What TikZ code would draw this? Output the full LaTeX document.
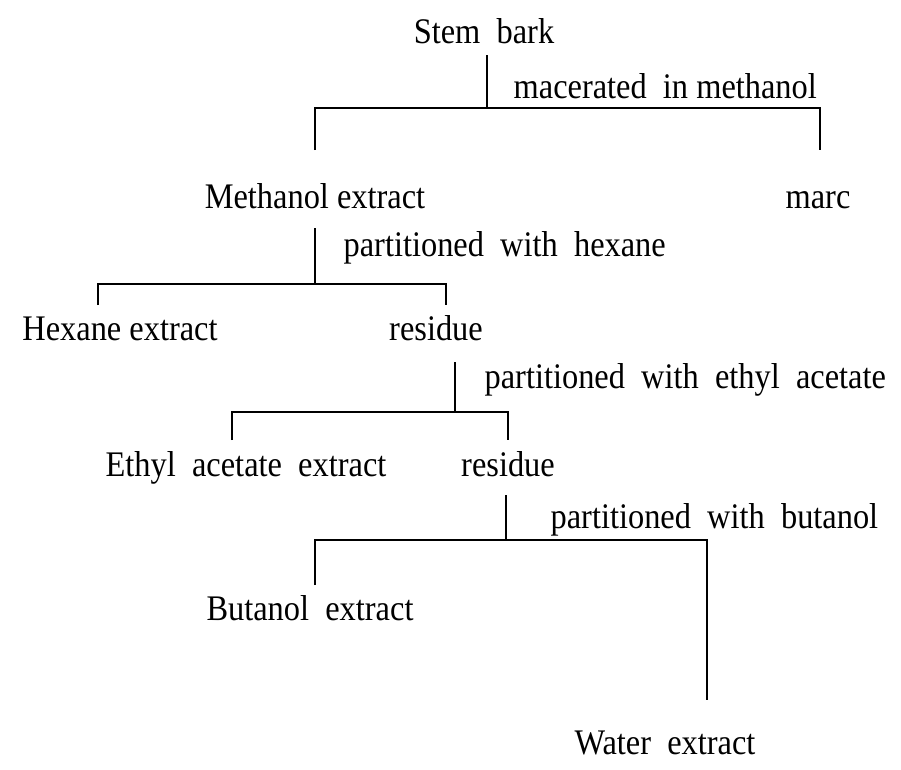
\documentclass[tikz,border=0pt]{standalone}
\usepackage{fontspec}
\setmainfont{Liberation Serif}[FakeStretch=0.9]
\usepackage{tikz}

\begin{document}
\begin{tikzpicture}[x=1pt, y=-1pt, font=\fontsize{36}{42}\selectfont, line width=1.3pt]
    \tikzset{
        txt/.style={inner sep=0pt, anchor=base},
        note/.style={inner sep=0pt, anchor=base west}
    }
    \useasboundingbox (0,0) rectangle (901,769);

    % Extracts and fractions
    \node[txt] (stem) at (484,43) {Stem\ \ bark};
    \node[txt] (meth) at (315,208) {Methanol extract};
    \node[txt] (marc) at (818,208) {marc};
    \node[txt] (hex) at (120,340) {Hexane extract};
    \node[txt] (resA) at (436,340) {residue};
    \node[txt] (etac) at (246,476) {Ethyl\ \ acetate\ \ extract};
    \node[txt] (resB) at (508,476) {residue};
    \node[txt] (buta) at (310,620) {Butanol\ \ extract};
    \node[txt] (water) at (665,754) {Water\ \ extract};

    % Steps
    \node[note] (stepA) at (513,98) {macerated\ \ in methanol};
    \node[note] (stepB) at (343,256) {partitioned\ \ with\ \ hexane};
    \node[note] (stepC) at (484,388) {partitioned\ \ with\ \ ethyl\ \ acetate};
    \node[note] (stepD) at (550,528) {partitioned\ \ with\ \ butanol};

    % Branch points
    \coordinate (topA) at (487,55);   \coordinate (barA) at (487,108);
    \coordinate (barAl) at (315,108); \coordinate (barAr) at (820,108);
    \coordinate (endAl) at (315,150); \coordinate (endAr) at (820,150);

    \coordinate (topB) at (315,228);  \coordinate (barB) at (315,284);
    \coordinate (barBl) at (98,284);  \coordinate (barBr) at (446,284);
    \coordinate (endBl) at (98,305);  \coordinate (endBr) at (446,305);

    \coordinate (topC) at (455,362);  \coordinate (barC) at (455,412);
    \coordinate (barCl) at (232,412); \coordinate (barCr) at (508,412);
    \coordinate (endCl) at (232,440); \coordinate (endCr) at (508,440);

    \coordinate (topD) at (506,495);  \coordinate (barD) at (506,540);
    \coordinate (barDl) at (315,540); \coordinate (barDr) at (707,540);
    \coordinate (endDl) at (315,585); \coordinate (endDr) at (707,700);

    % Connections
    \foreach \s in {A,B,C,D} {
        \draw (top\s) -- (bar\s);
        \draw (end\s l) -- (bar\s l) -- (bar\s r) -- (end\s r);
    }
\end{tikzpicture}
\end{document}
